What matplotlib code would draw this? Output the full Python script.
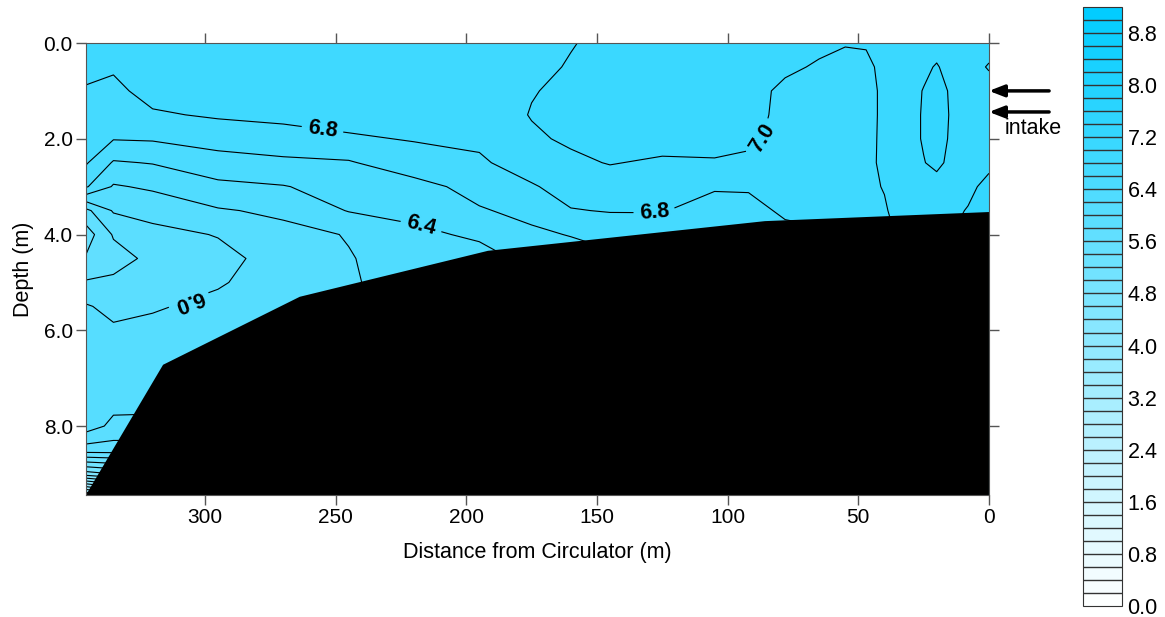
import numpy as np
import matplotlib
matplotlib.use('Agg')
import matplotlib.pyplot as plt
from matplotlib.colors import LinearSegmentedColormap

plt.rcParams['font.family'] = ['Liberation Sans', 'DejaVu Sans']

# stations: distance from circulator (m) and sample depths (m)
distance = [0, 8, 15, 20, 25, 32, 40, 47, 55, 65, 78, 92, 105, 125, 145,
            160, 175, 195, 220, 245, 270, 295, 320, 335, 345.5]
depth = [0, 0.5, 1.0, 1.5, 2.0, 2.5, 3.0, 3.5, 4.0, 4.5, 5.0, 5.5, 6.0,
         6.5, 7.0, 7.5, 8.0, 8.5, 9.0, 9.44]

# dissolved oxygen, one profile per station (surface -> bottom)
do_profiles = [
    [7.10, 7.22, 7.10, 7.10, 7.10, 7.12, 7.30, 7.30, 7.30, 7.30, 7.30, 7.30, 7.30, 7.30, 7.30, 7.30, 7.30, 7.30, 7.30, 7.30],
    [7.10, 7.10, 7.10, 7.10, 7.10, 7.10, 7.12, 7.22, 7.30, 7.30, 7.30, 7.30, 7.30, 7.30, 7.30, 7.30, 7.30, 7.30, 7.30, 7.30],
    [7.10, 7.12, 7.18, 7.19, 7.18, 7.15, 7.10, 7.12, 7.19, 7.19, 7.19, 7.19, 7.19, 7.19, 7.19, 7.19, 7.19, 7.19, 7.19, 7.19],
    [7.10, 7.22, 7.30, 7.32, 7.30, 7.26, 7.10, 7.10, 7.10, 7.10, 7.10, 7.10, 7.10, 7.10, 7.10, 7.10, 7.10, 7.10, 7.10, 7.10],
    [7.10, 7.15, 7.21, 7.22, 7.22, 7.19, 7.10, 7.10, 7.10, 7.10, 7.10, 7.10, 7.10, 7.10, 7.10, 7.10, 7.10, 7.10, 7.10, 7.10],
    [7.10, 7.10, 7.10, 7.10, 7.10, 7.10, 7.10, 7.10, 7.05, 7.05, 7.05, 7.05, 7.05, 7.05, 7.05, 7.05, 7.05, 7.05, 7.05, 7.05],
    [7.06, 7.06, 7.05, 7.05, 7.05, 7.04, 7.01, 6.98, 6.95, 6.95, 6.95, 6.95, 6.95, 6.95, 6.95, 6.95, 6.95, 6.95, 6.95, 6.95],
    [7.02, 6.95, 6.92, 6.92, 6.93, 6.95, 6.96, 6.94, 6.90, 6.90, 6.90, 6.90, 6.90, 6.90, 6.90, 6.90, 6.90, 6.90, 6.90, 6.90],
    [7.02, 6.90, 6.88, 6.88, 6.88, 6.88, 6.88, 6.86, 6.82, 6.78, 6.78, 6.78, 6.78, 6.78, 6.78, 6.78, 6.78, 6.78, 6.78, 6.78],
    [7.06, 6.97, 6.88, 6.88, 6.88, 6.87, 6.86, 6.84, 6.78, 6.75, 6.75, 6.75, 6.75, 6.75, 6.75, 6.75, 6.75, 6.75, 6.75, 6.75],
    [7.08, 7.05, 6.94, 6.92, 6.92, 6.88, 6.86, 6.83, 6.75, 6.70, 6.70, 6.70, 6.70, 6.70, 6.70, 6.70, 6.70, 6.70, 6.70, 6.70],
    [7.10, 7.10, 7.10, 7.10, 7.05, 6.95, 6.82, 6.74, 6.68, 6.65, 6.65, 6.65, 6.65, 6.65, 6.65, 6.65, 6.65, 6.65, 6.65, 6.65],
    [7.10, 7.10, 7.10, 7.10, 7.08, 6.98, 6.82, 6.72, 6.62, 6.58, 6.58, 6.58, 6.58, 6.58, 6.58, 6.58, 6.58, 6.58, 6.58, 6.58],
    [7.10, 7.10, 7.10, 7.10, 7.08, 6.97, 6.90, 6.81, 6.70, 6.55, 6.50, 6.50, 6.50, 6.50, 6.50, 6.50, 6.50, 6.50, 6.50, 6.50],
    [7.10, 7.10, 7.10, 7.10, 7.08, 7.01, 6.90, 6.81, 6.68, 6.55, 6.50, 6.50, 6.50, 6.50, 6.50, 6.50, 6.50, 6.50, 6.50, 6.50],
    [6.98, 7.03, 7.04, 7.04, 7.03, 6.96, 6.88, 6.79, 6.61, 6.50, 6.42, 6.42, 6.42, 6.42, 6.42, 6.42, 6.42, 6.42, 6.42, 6.42],
    [6.94, 6.90, 6.99, 7.01, 6.97, 6.90, 6.78, 6.66, 6.56, 6.45, 6.35, 6.30, 6.30, 6.30, 6.30, 6.30, 6.30, 6.30, 6.30, 6.30],
    [6.92, 6.92, 6.90, 6.88, 6.84, 6.77, 6.68, 6.58, 6.43, 6.33, 6.22, 6.18, 6.18, 6.18, 6.18, 6.18, 6.18, 6.18, 6.18, 6.18],
    [6.92, 6.92, 6.90, 6.86, 6.81, 6.73, 6.52, 6.45, 6.36, 6.28, 6.24, 6.18, 6.15, 6.15, 6.15, 6.15, 6.15, 6.15, 6.15, 6.15],
    [6.92, 6.92, 6.90, 6.86, 6.78, 6.58, 6.48, 6.41, 6.21, 6.19, 6.19, 6.15, 6.12, 6.12, 6.12, 6.12, 6.12, 6.12, 6.12, 6.12],
    [6.90, 6.90, 6.88, 6.85, 6.72, 6.56, 6.39, 6.24, 6.14, 6.08, 6.10, 6.10, 6.10, 6.10, 6.10, 6.10, 6.10, 6.10, 6.10, 6.10],
    [6.90, 6.90, 6.88, 6.82, 6.70, 6.50, 6.36, 6.18, 6.01, 5.94, 5.98, 6.05, 6.10, 6.10, 6.10, 6.10, 6.10, 6.10, 6.10, 6.10],
    [6.90, 6.88, 6.86, 6.78, 6.62, 6.41, 6.23, 6.07, 5.94, 5.85, 5.88, 5.98, 6.05, 6.08, 6.10, 6.05, 5.95, 5.70, 4.80, 3.50],
    [6.88, 6.82, 6.76, 6.72, 6.61, 6.38, 6.18, 6.02, 5.82, 5.72, 5.84, 5.94, 6.03, 6.08, 6.08, 6.06, 5.95, 5.70, 4.80, 3.50],
    [6.90, 6.86, 6.78, 6.72, 6.68, 6.62, 6.42, 5.75, 5.50, 5.62, 5.82, 6.02, 6.10, 6.12, 6.12, 6.10, 6.10, 5.70, 4.70, 3.20],
]

# lake bottom along the transect
bottom_dist = [345.5, 316, 263.7, 191.7, 85.7, 0]
bottom_depth = [9.44, 6.72, 5.3, 4.34, 3.72, 3.53]

# labelled contours and where each label sits
label_levels = [6.0, 6.4, 6.8, 7.0]
label_pos = [(255, 1.8), (217, 3.77), (306, 5.4), (128, 3.54), (85, 2.04)]

levels = np.round(np.arange(0, 9.21, 0.2), 1)
cbar_ticks = np.round(np.arange(0, 8.81, 0.8), 1)
plain_levels = [lv for lv in levels if not np.isclose(label_levels, lv).any()]

X, Y = np.meshgrid(distance, depth)
Z = np.array(do_profiles).T

fig = plt.figure(figsize=(11.65, 6.17), dpi=100)
ax = fig.add_axes([0.0738, 0.1977, 0.7751, 0.7326])

cmap = LinearSegmentedColormap.from_list('do_blue', ['#ffffff', '#00ccff'])
cf = ax.contourf(X, Y, Z, levels=levels, cmap=cmap, zorder=1)
ax.contour(X, Y, Z, levels=plain_levels, colors='black', linewidths=0.8, zorder=2)
cs = ax.contour(X, Y, Z, levels=label_levels, colors='black', linewidths=0.8, zorder=2)
txts = ax.clabel(cs, manual=label_pos, fontsize=15.5, fmt='%.1f', inline_spacing=6)
for t in txts:
    t.set_fontweight('bold')
    if t.get_text() == '6.0':
        t.set_rotation(t.get_rotation() + 180)

ax.fill(bottom_dist + [0], bottom_depth + [9.44], color='black', lw=0, zorder=3)

ax.set_xlim(345.5, 0)
ax.set_ylim(9.44, 0)
ax.set_xticks([300, 250, 200, 150, 100, 50, 0])
ax.set_yticks([0, 2, 4, 6, 8])
ax.set_yticklabels(['%.1f' % v for v in [0, 2, 4, 6, 8]])
ax.tick_params(direction='out', top=True, right=True, length=7.5, width=1,
               color='#555555', labelsize=15, pad=2)
for s in ax.spines.values():
    s.set_color('#555555')
    s.set_zorder(4)
ax.set_xlabel('Distance from Circulator (m)', fontsize=15.5, labelpad=11)
ax.set_ylabel('Depth (m)', fontsize=15.5, labelpad=7)

# intake arrows
for d in [1.0, 1.44]:
    ax.annotate('', xy=(0, d), xytext=(-23, d), annotation_clip=False,
                arrowprops=dict(arrowstyle='-|>,head_length=0.9,head_width=0.35',
                                lw=2.5, color='black', shrinkA=0, shrinkB=0))
ax.text(-6, 1.79, 'intake', fontsize=15.5, va='center', ha='left', clip_on=False)

cax = fig.add_axes([0.9296, 0.0178, 0.0335, 0.971])
cb = fig.colorbar(cf, cax=cax, ticks=cbar_ticks, drawedges=True, format='%.1f')
cb.dividers.set_color('#333333')
cb.dividers.set_linewidth(1.0)
cb.outline.set_edgecolor('#333333')
cb.ax.tick_params(length=0, labelsize=15.5, pad=4)

fig.savefig('out.png', dpi=100)
